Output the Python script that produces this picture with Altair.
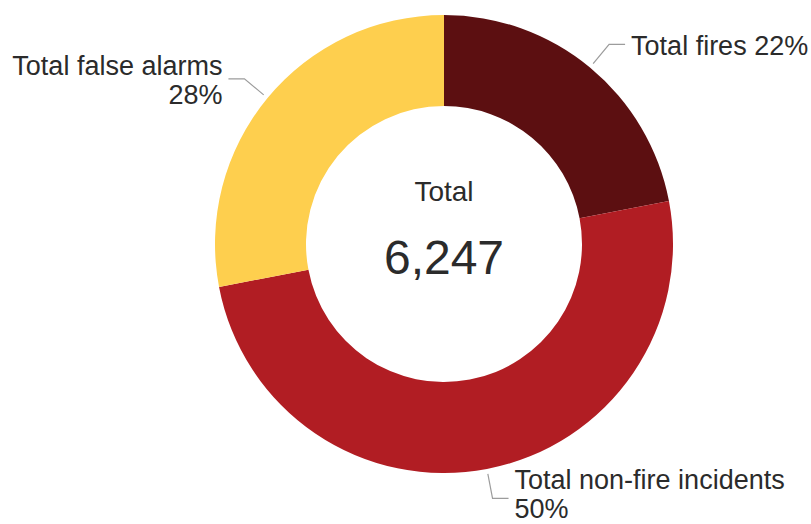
import altair as alt
import numpy as np
import pandas as pd

# ---- data -------------------------------------------------------------
categories = ["Total fires", "Total non-fire incidents", "Total false alarms"]
shares = [22, 50, 28]                 # percent of all incidents
label_breaks = [" ", "\n", "\n"]      # how each outer label wraps
colors = ["#5c0f11", "#b11d23", "#fecf4e"]
total_incidents = 6247
center_title = "Total"

# ---- layout / style ----------------------------------------------------
INNER_R, OUTER_R = 138, 229
R_START, R_ELBOW, ARM, GAP = 234, 259, 16, 6
W, H = 734, 488                       # plot area; donut sits in its centre
PAD = {"left": 77, "top": 0, "right": 0, "bottom": 36}
FONT = "Liberation Sans"
LABEL_SIZE, LINE_H = 27, 29
TEXT_COLOR = "#2b2b2b"
LEADER_COLOR = "#9c9c9c"

df = pd.DataFrame({"category": categories, "share": shares,
                   "order": list(range(len(categories)))})
df["label"] = [f"{c}{b}{s}%" for c, b, s in zip(categories, label_breaks, shares)]
tot = df["share"].sum()
df["mid"] = (df["share"].cumsum() - df["share"] / 2) / tot * 2 * np.pi

line_rows, label_rows = [], []
for _, r in df.iterrows():
    s, c = np.sin(r["mid"]), np.cos(r["mid"])
    side = 1 if s >= 0 else -1
    ex, ey = R_ELBOW * s, R_ELBOW * c
    pts = [(R_START * s, R_START * c), (ex, ey), (ex + side * ARM, ey)]
    for i, (x, y) in enumerate(pts):
        line_rows.append({"category": r["category"], "i": i, "px": x, "py": y})
    n_lines = r["label"].count("\n") + 1
    shift = -3 if c > 0 else 3        # nudge: down at the top, up at the bottom
    label_rows.append({"category": r["category"], "label": r["label"],
                       "px": ex + side * (ARM + GAP),
                       "py": ey + (n_lines - 1) * LINE_H / 2 + shift,
                       "side": "right" if side > 0 else "left"})
lines_df = pd.DataFrame(line_rows)
labels_df = pd.DataFrame(label_rows)

xs = alt.Scale(domain=[-W / 2, W / 2], nice=False, zero=False)
ys = alt.Scale(domain=[-H / 2, H / 2], nice=False, zero=False)
X = alt.X("px:Q", scale=xs, axis=None)
Y = alt.Y("py:Q", scale=ys, axis=None)

arcs = alt.Chart(df).mark_arc(innerRadius=INNER_R, outerRadius=OUTER_R).encode(
    theta=alt.Theta("share:Q", stack=True),
    color=alt.Color("category:N", scale=alt.Scale(domain=categories, range=colors), legend=None),
    order=alt.Order("order:Q"),
)

leaders = alt.Chart(lines_df).mark_line(color=LEADER_COLOR, strokeWidth=1.2).encode(
    x=X, y=Y, detail="category:N", order="i:Q"
)

def label_layer(side, align):
    return alt.Chart(labels_df[labels_df["side"] == side]).mark_text(
        align=align, baseline="middle", font=FONT, fontSize=LABEL_SIZE,
        lineHeight=LINE_H, lineBreak="\n", color=TEXT_COLOR,
    ).encode(x=X, y=Y, text="label:N")

labels_right = label_layer("right", "left")
labels_left = label_layer("left", "right")

center_df = pd.DataFrame({"t": [center_title], "n": [f"{total_incidents:,}"]})
center_title_t = alt.Chart(center_df).mark_text(
    font=FONT, fontSize=28, color=TEXT_COLOR, baseline="middle", dy=-51
).encode(x=alt.value(W / 2), y=alt.value(H / 2), text="t:N")
center_num_t = alt.Chart(center_df).mark_text(
    font=FONT, fontSize=48, color=TEXT_COLOR, baseline="middle", dy=16
).encode(x=alt.value(W / 2), y=alt.value(H / 2), text="n:N")

chart = alt.layer(
    arcs, leaders, labels_right, labels_left, center_title_t, center_num_t
).properties(
    width=W, height=H, padding=PAD, background="white",
    autosize=alt.AutoSizeParams(type="none"),
).configure_view(stroke=None)

chart.save("out.html", embed_options={"renderer": "svg", "actions": False})
